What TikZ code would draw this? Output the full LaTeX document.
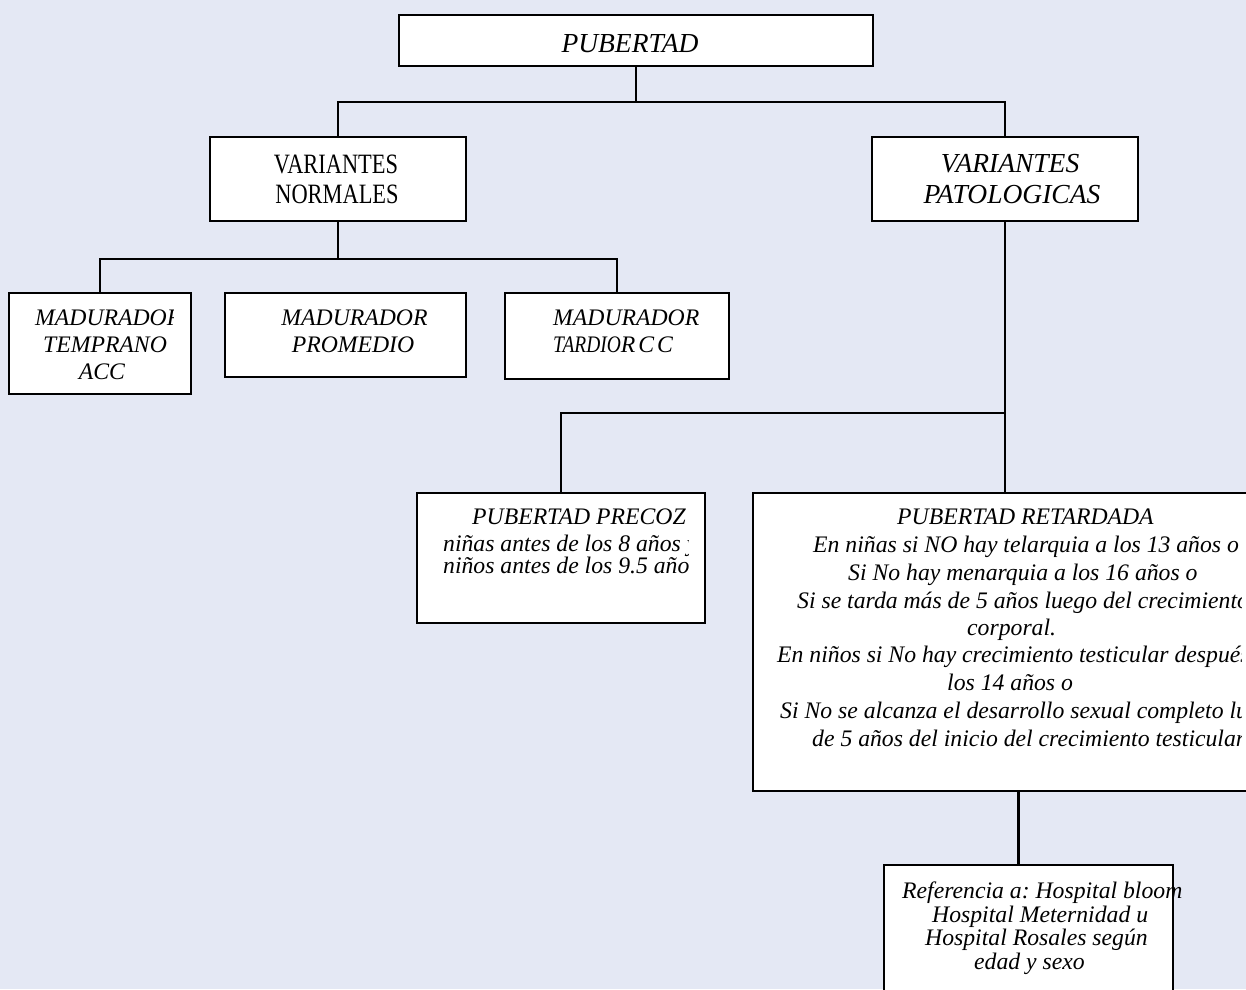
\documentclass[tikz,border=0pt]{standalone}
\usepackage{fontspec}
\setmainfont{Liberation Serif}
\newfontfamily\condserif[FakeStretch=0.8]{Liberation Serif}
\definecolor{canvas}{RGB}{228,232,244}
\frenchspacing
\begin{document}
\begin{tikzpicture}[x=1pt,y=-1pt,
  box/.style={draw=black, fill=white, line width=2pt, inner sep=0pt, rectangle},
  link/.style={draw=black, line width=2pt},
  it/.style={font=\itshape\fontsize{23.7}{27}\selectfont, inner sep=0pt},
  big/.style={font=\itshape\fontsize{27.5}{31}\selectfont, inner sep=0pt},
  cond/.style={font=\condserif\fontsize{28}{31}\selectfont, inner sep=0pt}]

% canvas
\fill[canvas] (0,0) rectangle (1246,989);
\useasboundingbox (0,0) rectangle (1246,989);

% boxes
\node[box, minimum width=474pt, minimum height=51pt]  (pub)  at (636,40.5) {};
\node[box, minimum width=256pt, minimum height=84pt]  (vn)   at (338,179) {};
\node[box, minimum width=266pt, minimum height=84pt]  (vp)   at (1005,179) {};
\node[box, minimum width=182pt, minimum height=101pt] (mt)   at (100,343.5) {};
\node[box, minimum width=241pt, minimum height=84pt]  (mp)   at (345.5,335) {};
\node[box, minimum width=224pt, minimum height=86pt]  (mtar) at (617,336) {};
\node[box, minimum width=288pt, minimum height=130pt] (prec) at (561,558) {};
\node[box, minimum width=530pt, minimum height=298pt] (ret)  at (1018,642) {};
\node[box, minimum width=289pt, minimum height=150pt] (ref)  at (1028.5,940) {};

% connectors
\draw[link] (pub.south) -- ++(0,35) coordinate (jtop);
\draw[link] (vn.north) |- (jtop) -| (vp.north);
\draw[link] (vn.south) -- ++(0,37) coordinate (jnorm);
\draw[link] (mt.north) |- (jnorm) -| (mtar.north);
\draw[link] (vp.south) -- (vp.south |- ret.north);
\path (vp.south) ++(0,191) coordinate (jpat);
\draw[link] (prec.north) |- (jpat);
\draw[link, line width=3pt] (ret.south) -- (ret.south |- ref.north);

% texts
\node[big, anchor=base] (t-pub) at (630,52) {PUBERTAD};

\node[cond, anchor=base] (t-vn1) at (336,173) {VARIANTES};
\node[cond, anchor=base] (t-vn2) at (337,203) {NORMALES};

\node[big, anchor=base] (t-vp1) at (1010,172) {VARIANTES};
\node[big, anchor=base] (t-vp2) at (1012,203) {PATOLOGICAS};

\begin{scope}
  \clip (9,293) rectangle (173,394);
  \node[it, anchor=base west] (t-mt1) at (35,325) {MADURADOR};
  \node[it, anchor=base] (t-mt2) at (105,352) {TEMPRANO};
  \node[it, anchor=base] (t-mt3) at (102,379) {ACC};
\end{scope}

\node[it, anchor=base] (t-mp1) at (354.5,325) {MADURADOR};
\node[it, anchor=base] (t-mp2) at (353,352) {PROMEDIO};

\node[it, anchor=base west] (t-mr1) at (553,325) {MADURADOR};
\node[it, anchor=base west] (t-mr2) at (553,352)
  {\scalebox{0.82}[1]{TARDIO}R\kern3pt C\kern3pt C};

\begin{scope}
  \clip (417,493) rectangle (688,623);
  \node[it, anchor=base west] (t-pp1) at (472,524) {PUBERTAD PRECOZ};
  \node[it, anchor=base west] (t-pp2) at (443,551) {niñas antes de los 8 años y};
  \node[it, anchor=base west] (t-pp3) at (443,573) {niños antes de los 9.5 años};
\end{scope}

\begin{scope}
  \clip (753,493) rectangle (1241,791);
  \node[it, anchor=base west] (t-pr1) at (897,524) {PUBERTAD RETARDADA};
  \node[it, anchor=base west] (t-pr2) at (813,552) {En niñas si NO hay telarquia a los 13 años o};
  \node[it, anchor=base west] (t-pr3) at (848,580) {Si No hay menarquia a los 16 años o};
  \node[it, anchor=base west] (t-pr4) at (797,608) {Si se tarda más de 5 años luego del crecimiento};
  \node[it, anchor=base west] (t-pr5) at (967,635) {corporal.};
  \node[it, anchor=base west] (t-pr6) at (777,662) {En niños si No hay crecimiento testicular después de};
  \node[it, anchor=base west] (t-pr7) at (947,690) {los 14 años o};
  \node[it, anchor=base west] (t-pr8) at (780,718) {Si No se alcanza el desarrollo sexual completo luego};
  \node[it, anchor=base west] (t-pr9) at (812,746) {de 5 años del inicio del crecimiento testicular};
\end{scope}

\node[it, anchor=base west] (t-rf1) at (902,898) {Referencia a: Hospital bloom};
\node[it, anchor=base west] (t-rf2) at (932,922) {Hospital Meternidad u};
\node[it, anchor=base west] (t-rf3) at (925,945) {Hospital Rosales según};
\node[it, anchor=base west] (t-rf4) at (974,969) {edad y sexo};

\end{tikzpicture}
\end{document}
